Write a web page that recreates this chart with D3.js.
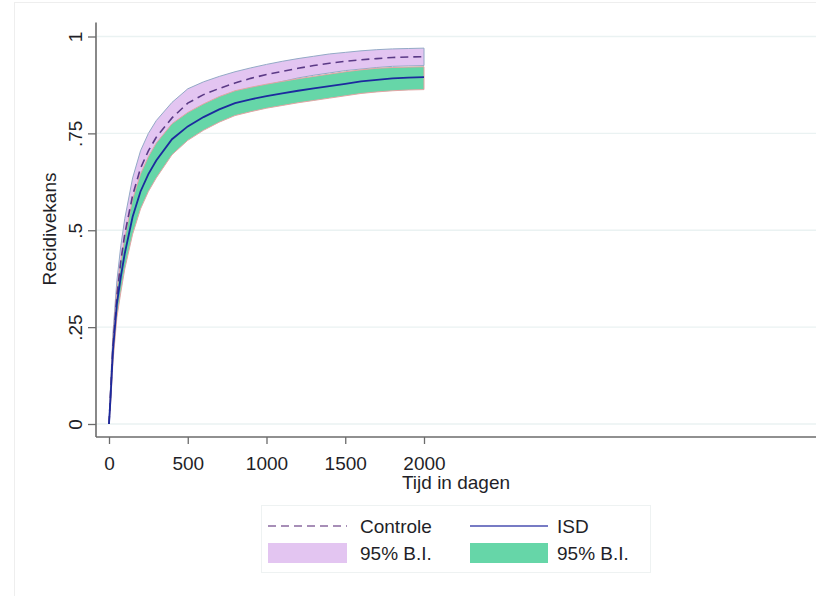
<!DOCTYPE html>
<html><head><meta charset="utf-8">
<script src="https://cdn.jsdelivr.net/npm/d3@7"></script>
<style>html,body{margin:0;padding:0;background:#fff;}svg{display:block;font-family:"Liberation Sans",Arial,sans-serif;}</style>
</head><body>
<svg id="c" width="816" height="596"></svg>
<script>
const days = [0,10,25,50,75,100,150,200,250,300,400,500,600,700,800,900,1000,1100,1200,1300,1400,1500,1600,1700,1800,1900,2000];
const controle = [0,.08,.20,.33,.42,.49,.59,.66,.705,.74,.79,.828,.85,.866,.88,.892,.902,.91,.918,.925,.931,.936,.94,.943,.946,.947,.948];
const controleLo = [0,.06,.17,.295,.38,.45,.545,.615,.66,.697,.75,.792,.818,.836,.852,.865,.875,.884,.893,.9,.906,.912,.916,.92,.923,.924,.925];
const controleHi = [0,.10,.235,.37,.46,.53,.635,.705,.75,.783,.83,.865,.883,.897,.909,.919,.928,.936,.943,.949,.955,.959,.963,.966,.968,.969,.97];
const isd = [0,.07,.19,.31,.38,.44,.535,.60,.645,.68,.735,.768,.792,.812,.828,.838,.846,.853,.86,.866,.872,.878,.884,.888,.892,.894,.895];
const isdLo = [0,.05,.16,.275,.34,.4,.49,.555,.60,.635,.695,.732,.758,.779,.796,.806,.815,.822,.829,.835,.841,.847,.853,.857,.86,.862,.863];
const isdHi = [0,.09,.22,.345,.42,.48,.58,.645,.69,.725,.775,.804,.826,.845,.86,.869,.877,.884,.891,.897,.903,.909,.914,.918,.92,.921,.922];
const xTicks = [0,500,1000,1500,2000];
const yTicks = [0,.25,.5,.75,1];
const yTickLabels = ["0",".25",".5",".75","1"];
const legendLabels = ["Controle","ISD","95% B.I.","95% B.I."];

const svg = d3.select("#c");
const x = d3.scaleLinear().domain([0,2000]).range([109,424]);
const y = d3.scaleLinear().domain([0,1]).range([424,36.5]);
const font = 19;
const txt = "#1f1f28";

// outer faint frame
svg.append("rect").attr("x",14.5).attr("y",2.5).attr("width",810).attr("height",600)
  .attr("fill","none").attr("stroke","#eeeeee");

// gridlines
svg.append("g").selectAll("line").data(yTicks).join("line")
  .attr("x1",97).attr("x2",816).attr("y1",d=>y(d)).attr("y2",d=>y(d))
  .attr("stroke","#eaf2f2").attr("stroke-width",1.3);

const idx = d3.range(days.length);
const area = (lo,hi)=>d3.area().x(i=>x(days[i])).y0(i=>y(lo[i])).y1(i=>y(hi[i]));
const line = (v)=>d3.line().x(i=>x(days[i])).y(i=>y(v[i]));

svg.append("path").datum(idx).attr("d",area(controleLo,controleHi))
  .attr("fill","#e3c5f1").attr("stroke","#93a9c6").attr("stroke-width",1);
svg.append("path").datum(idx).attr("d",area(isdLo,isdHi))
  .attr("fill","#66d6a8").attr("stroke","#e3a4a4").attr("stroke-width",1);
svg.append("path").datum(idx).attr("d",line(controle))
  .attr("fill","none").attr("stroke","#5b3a86").attr("stroke-width",1.6).attr("stroke-dasharray","8,5");
svg.append("path").datum(idx).attr("d",line(isd))
  .attr("fill","none").attr("stroke","#1c2a9e").attr("stroke-width",1.8);

// y axis
const yAxis = svg.append("g").attr("transform","translate(96,0)")
  .call(d3.axisLeft(y).tickValues(yTicks).tickFormat((d,i)=>yTickLabels[i]).tickSize(8).tickSizeOuter(0));
yAxis.select(".domain").attr("d","M0,22.5V437").attr("stroke","#6b6b6b").attr("stroke-width",1.6);
yAxis.selectAll(".tick line").attr("stroke","#6b6b6b").attr("stroke-width",1.3);
yAxis.selectAll(".tick text").attr("font-size",font).attr("fill",txt)
  .attr("transform","rotate(-90)").attr("x",0).attr("y",-14).attr("dy","0").attr("text-anchor","middle");
// x axis
const xAxis = svg.append("g").attr("transform","translate(0,437)")
  .call(d3.axisBottom(x).tickValues(xTicks).tickFormat(d3.format("d")).tickSize(7).tickSizeOuter(0));
xAxis.select(".domain").attr("d","M96,0H816").attr("stroke","#6b6b6b").attr("stroke-width",1.6);
xAxis.selectAll(".tick line").attr("stroke","#6b6b6b").attr("stroke-width",1.3);
xAxis.selectAll(".tick text").attr("font-size",font).attr("fill",txt).attr("y",33).attr("dy","0");

svg.append("text").attr("x",456).attr("y",489).attr("text-anchor","middle")
  .attr("font-size",font).attr("fill",txt).text("Tijd in dagen");
svg.append("text").attr("transform","translate(56,229) rotate(-90)").attr("text-anchor","middle")
  .attr("font-size",font).attr("fill",txt).text("Recidivekans");

// legend
const lg = svg.append("g");
lg.append("rect").attr("x",261.5).attr("y",505.5).attr("width",389).attr("height",67)
  .attr("fill","#fff").attr("stroke","#eef2f2");
lg.append("line").attr("x1",268).attr("x2",347).attr("y1",526).attr("y2",526)
  .attr("stroke","#8a6aa0").attr("stroke-width",1.6).attr("stroke-dasharray","8,5");
lg.append("line").attr("x1",470).attr("x2",548).attr("y1",526).attr("y2",526)
  .attr("stroke","#4a4fb0").attr("stroke-width",1.6);
lg.append("rect").attr("x",268).attr("y",543).attr("width",79).attr("height",20).attr("fill","#e3c5f1");
lg.append("rect").attr("x",470).attr("y",543).attr("width",78).attr("height",20).attr("fill","#66d6a8");
const lpos = [[360,526],[557,526],[360,553],[557,553]];
lg.selectAll("text").data(legendLabels).join("text")
  .attr("x",(d,i)=>lpos[i][0]).attr("y",(d,i)=>lpos[i][1]).attr("dy","0.36em")
  .attr("font-size",font).attr("fill",txt).text(d=>d);
</script>
</body></html>
